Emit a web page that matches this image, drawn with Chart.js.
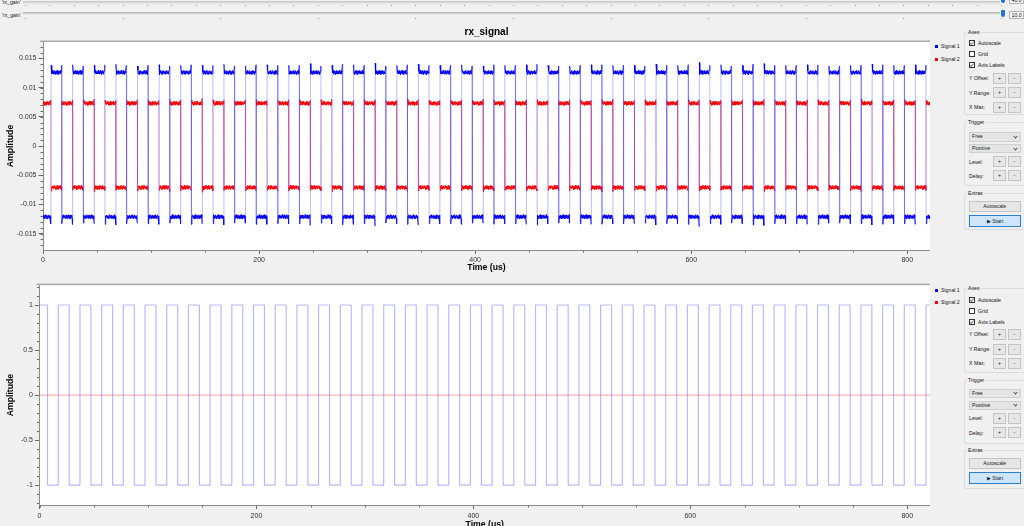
<!DOCTYPE html>
<html>
<head>
<meta charset="utf-8">
<script src="https://cdn.jsdelivr.net/npm/chart.js@4"></script>
<style>
html,body{margin:0;padding:0;width:1024px;height:526px;overflow:hidden;background:#f0f0f0;font-family:"Liberation Sans",Arial,sans-serif;color:#000;}
body{position:relative;}
canvas{position:absolute;}
.a{position:absolute;box-sizing:border-box;}
.t{position:absolute;font-size:5.2px;line-height:8px;height:8px;white-space:nowrap;color:#111;}
.gb{position:absolute;box-sizing:border-box;border:1px solid #dcdcdc;border-radius:2px;}
.gbt{position:absolute;font-size:5.2px;line-height:6px;background:#f0f0f0;padding:0 1px;color:#111;}
.cb{position:absolute;box-sizing:border-box;width:6px;height:6px;border:1px solid #333;background:#fff;}
.cb.on::after{content:"";position:absolute;left:1.3px;top:-0.3px;width:1.3px;height:2.8px;border:solid #777;border-width:0 0.8px 0.8px 0;transform:rotate(40deg);}
.btn{position:absolute;box-sizing:border-box;border:1px solid #c4c4c4;background:#e6e6e6;font-size:5.2px;text-align:center;color:#222;}
.dd{position:absolute;box-sizing:border-box;border:1px solid #cfcfcf;background:#e4e4e4;font-size:5.2px;color:#222;padding-left:2px;}
.dd::after{content:"";position:absolute;right:3px;top:1.8px;width:2px;height:2px;border:solid #555;border-width:0 0.7px 0.7px 0;transform:rotate(45deg);}
.start{border:1px solid #2a7fd4;background:#cde6fb;}
.tick{position:absolute;width:1px;height:1.5px;background:#9a9a9a;}
.sq{position:absolute;width:3px;height:3px;}
</style>
</head>
<body>
<canvas id="topPlot" width="930" height="255" style="left:0;top:20px;width:930px;height:255px"></canvas>
<canvas id="botPlot" width="930" height="253" style="left:0;top:279px;width:930px;height:253px"></canvas>
<script>
// ---------------- data ----------------
const xMax = 821;                                   // time axis end (us)
const xTickVals = [0, 200, 400, 600, 800];
const xTickLabels = ['0', '200', '400', '600', '800'];
const yTopTicks = [-0.015, -0.01, -0.005, 0, 0.005, 0.01, 0.015];
const yTopLabels = ['-0.015', '-0.01', '-0.005', '0', '0.005', '0.01', '0.015'];
const yBotTicks = [-1, -0.5, 0, 0.5, 1];
const yBotLabels = ['-1', '-0.5', '0', '0.5', '1'];
const seriesNames = ['Signal 1', 'Signal 2'];

// edge times (us): A = Signal 1 rising edges (rx_signal), B = Signal 1 falling edges
const edgeA = [7.4, 27.4, 47.4, 67.4, 87.4, 107.4, 127.4, 147.4, 167.4, 187.4, 207.4, 227.4, 247.4, 267.4,
  287.4, 307.4, 327.4, 347.4, 367.4, 387.4, 407.4, 427.4, 447.4, 467.4, 487.4, 507.4, 527.4, 547.4,
  567.4, 587.4, 607.4, 627.4, 647.4, 667.4, 687.4, 707.4, 727.4, 747.4, 767.4, 787.4, 807.4];
const edgeB = [17.3, 37.3, 57.3, 77.3, 97.3, 117.3, 137.3, 157.3, 177.3, 197.3, 217.3, 237.3, 257.3, 277.3,
  297.3, 317.3, 337.3, 357.3, 377.3, 397.3, 417.3, 437.3, 457.3, 477.3, 497.3, 517.3, 537.3, 557.3,
  577.3, 597.3, 617.3, 637.3, 657.3, 677.3, 697.3, 717.3, 737.3, 757.3, 777.3, 797.3, 817.3];

// rx_signal plateau levels
const sig1High = 0.0126, sig1Low = -0.0121;
const sig2High = 0.0073, sig2Low = -0.0071;
// overshoot size at each edge (rx_signal)
const sig1SpikeA = [0.0012, 0.0013, 0.0012, 0.0014, 0.0011, 0.0013, 0.0012, 0.0012, 0.0014, 0.0011, 0.0013, 0.0012,
  0.0015, 0.0012, 0.0013, 0.0016, 0.0012, 0.0014, 0.0012, 0.0013, 0.0011, 0.0012, 0.0013, 0.0012, 0.0011, 0.0013,
  0.0012, 0.0012, 0.0014, 0.0012, 0.0017, 0.0013, 0.0012, 0.0015, 0.0012, 0.0013, 0.0011, 0.0012, 0.0014, 0.0012, 0.0013];
const sig1SpikeB = [0.0012, 0.0011, 0.0013, 0.0012, 0.0012, 0.0011, 0.0013, 0.0012, 0.0011, 0.0013, 0.0012, 0.0012,
  0.0011, 0.0014, 0.0012, 0.0011, 0.0013, 0.0012, 0.0012, 0.0011, 0.0013, 0.0012, 0.0014, 0.0011, 0.0012, 0.0013,
  0.0012, 0.0011, 0.0012, 0.0013, 0.0012, 0.0011, 0.0014, 0.0012, 0.0012, 0.0013, 0.0011, 0.0012, 0.0013, 0.0012, 0.0012];
const sig2SpikeA = [0.0006, 0.0005, 0.0007, 0.0005, 0.0006, 0.0005, 0.0006, 0.0008, 0.0005, 0.0006, 0.0005, 0.0006,
  0.0005, 0.0007, 0.0005, 0.0006, 0.0005, 0.0006, 0.0005, 0.0006, 0.0007, 0.0005, 0.0006, 0.0005, 0.0006, 0.0005,
  0.0007, 0.0005, 0.0006, 0.0005, 0.0006, 0.0005, 0.0006, 0.0007, 0.0005, 0.0006, 0.0005, 0.0006, 0.0005, 0.0006, 0.0005];
const sig2SpikeB = [0.0005, 0.0006, 0.0005, 0.0006, 0.0005, 0.0007, 0.0005, 0.0006, 0.0005, 0.0006, 0.0005, 0.0006,
  0.0006, 0.0005, 0.0006, 0.0005, 0.0007, 0.0005, 0.0006, 0.0005, 0.0006, 0.0005, 0.0006, 0.0005, 0.0006, 0.0007,
  0.0005, 0.0006, 0.0005, 0.0006, 0.0005, 0.0006, 0.0005, 0.0006, 0.0005, 0.0006, 0.0005, 0.0007, 0.0005, 0.0006, 0.0005];
// plateau ripple (amplitude units)
const ripple1 = [0.0003, -0.00025, 0.0001, -0.00035, 0.0002, -0.0001, 0.00035, -0.0003, 0.00005, 0.00025, -0.00035,
  0.00015, -0.0001, 0.0003, -0.00025, 0.0001, -0.0003, 0.0002, 0, -0.00025, 0.00035, -0.00015, 0.0001, -0.0003, 0.00025];
const ripple2 = [-0.00025, 0.0003, -0.0001, 0.00025, -0.00035, 0.00015, 0.0001, -0.0003, 0.00035, -0.0002, 0.00005,
  0.0003, -0.0003, 0.0002, -0.0001, 0.00035, -0.00025, 0.0001, -0.0003, 0.0002, -0.00005, 0.0003, -0.00025];

// bottom plot levels
const botSig1High = 1, botSig1Low = -1;
const botSig2Level = 0;

// ---------------- build traces from the arrays ----------------
function mergedEdges() {
  const out = [];
  for (let k = 0; k < edgeA.length; k++) {
    out.push({t: edgeA[k], s: 'A', k});
    out.push({t: edgeB[k], s: 'B', k});
  }
  return out.sort((p, q) => p.t - q.t);
}
function noisyTrace(startHigh, hi, lo, spikeA, spikeB, ripple) {
  const edges = mergedEdges();
  const pts = [];
  let r = 0;
  const spikeOf = e => (e.s === 'A' ? spikeA[e.k] : spikeB[e.k]);
  for (let i = 0; i <= edges.length; i++) {
    const high = (i % 2 === 0) ? startHigh : !startHigh;
    const lvl = high ? hi : lo, dir = high ? 1 : -1;
    const ta = i === 0 ? 0 : edges[i - 1].t;
    const tb = i === edges.length ? xMax : edges[i].t;
    if (i === 0) pts.push({x: 0, y: lvl + ripple[r++ % ripple.length]});
    else pts.push({x: ta + 0.1, y: lvl + dir * spikeOf(edges[i - 1])});
    for (let t = ta + 0.5; t < tb - 0.35; t += 0.4) pts.push({x: t, y: lvl + ripple[r++ % ripple.length]});
    if (i === edges.length) pts.push({x: xMax, y: lvl + ripple[r++ % ripple.length]});
    else pts.push({x: tb - 0.1, y: lvl + dir * spikeOf(edges[i])});
  }
  return pts;
}
function cleanTrace(startHigh, hi, lo) {
  const edges = mergedEdges();
  let high = startHigh;
  const pts = [{x: 0, y: high ? hi : lo}];
  for (const e of edges) {
    pts.push({x: e.t, y: high ? hi : lo});
    high = !high;
    pts.push({x: e.t, y: high ? hi : lo});
  }
  pts.push({x: xMax, y: high ? hi : lo});
  return pts;
}
const topSig1 = noisyTrace(false, sig1High, sig1Low, sig1SpikeA, sig1SpikeB, ripple1);
const topSig2 = noisyTrace(true, sig2High, sig2Low, sig2SpikeA, sig2SpikeB, ripple2);
const botSig1 = cleanTrace(true, botSig1High, botSig1Low);
const botSig2 = [{x: 0, y: botSig2Level}, {x: xMax, y: botSig2Level}];

// ---------------- Chart.js ----------------
const FONT = '"Liberation Sans", Arial, sans-serif';
Chart.defaults.font.family = FONT;

const qwtFrame = {
  id: 'qwtFrame',
  beforeDraw(chart, args, o) {
    const {ctx, chartArea: a, scales: {x, y}} = chart;
    ctx.save();
    ctx.fillStyle = '#ffffff';
    ctx.fillRect(a.left, a.top, a.right - a.left, a.bottom - a.top);
    ctx.fillStyle = '#a9a9a9';
    ctx.fillRect(a.left - 3, a.top - 1.5, a.right - a.left + 3, 1.5);
    ctx.strokeStyle = '#6a6a6a';
    ctx.lineWidth = 1;
    ctx.beginPath();
    for (let i = Math.ceil(y.min / o.yMinor); i * o.yMinor <= y.max + 1e-12; i++) {
      const py = Math.round(y.getPixelForValue(i * o.yMinor)) + 0.5;
      ctx.moveTo(a.left - 2.5, py); ctx.lineTo(a.left, py);
    }
    for (let i = 0; i * o.xMinor <= x.max; i++) {
      const px = Math.round(x.getPixelForValue(i * o.xMinor)) + 0.5;
      ctx.moveTo(px, a.bottom); ctx.lineTo(px, a.bottom + 2.5);
    }
    ctx.stroke();
    ctx.restore();
  }
};

function makeChart(id, cfg) {
  return new Chart(document.getElementById(id), {
    type: 'scatter',
    data: {datasets: cfg.sets.map(s => ({
      label: s.label, data: s.data, showLine: true, borderColor: s.color, borderWidth: s.width,
      pointRadius: 0, pointHoverRadius: 0, fill: false, tension: 0,
      segment: {borderColor: c => (Math.abs(c.p1.parsed.y - c.p0.parsed.y) > cfg.edgeDy ? s.edgeColor : undefined)}
    }))},
    plugins: [qwtFrame],
    options: {
      responsive: false, animation: false, devicePixelRatio: 1, events: [],
      layout: {padding: {left: 0, right: 0, top: cfg.padTop, bottom: 0}},
      plugins: {
        legend: {display: false}, tooltip: {enabled: false},
        title: cfg.title ? {display: true, text: cfg.title, fullSize: false, color: '#000',
          font: {size: 10, weight: 'bold', family: FONT}, padding: {top: 6, bottom: 4}} : {display: false},
        qwtFrame: {yMinor: cfg.yMinor, xMinor: 50}
      },
      scales: {
        x: {
          type: 'linear', min: 0, max: xMax,
          afterBuildTicks: s => { s.ticks = xTickVals.map(v => ({value: v})); },
          afterFit: s => { s.height = cfg.xH; },
          grid: {display: true, drawOnChartArea: false, drawTicks: true, tickLength: 4, color: '#6a6a6a'},
          border: {display: true, color: '#8a8a8a', width: 1},
          ticks: {font: {size: 7}, color: '#333', padding: cfg.xPad, maxRotation: 0, autoSkip: false,
            callback: (v, i) => xTickLabels[i]},
          title: {display: true, text: 'Time (us)', color: '#000', font: {size: 8.7, weight: 'bold'},
            padding: {top: 0, bottom: 2}}
        },
        y: {
          type: 'linear', min: cfg.yMin, max: cfg.yMax,
          afterBuildTicks: s => { s.ticks = cfg.yTicks.map(v => ({value: v})); },
          afterFit: s => { s.width = cfg.yW; },
          grid: {display: true, drawOnChartArea: false, drawTicks: true, tickLength: 4.5, color: '#6a6a6a'},
          border: {display: true, color: '#8a8a8a', width: 1},
          ticks: {font: {size: 7}, color: '#333', padding: 2, autoSkip: false,
            callback: (v, i) => cfg.yLabels[i]},
          title: {display: true, text: 'Amplitude', color: '#000', font: {size: 8.7, weight: 'bold'},
            padding: {top: 5, bottom: 0}}
        }
      }
    }
  });
}

makeChart('topPlot', {
  title: 'rx_signal', padTop: 0, xH: 25, xPad: 2, yW: 43, yMinor: 0.001, edgeDy: 0.004,
  yMin: -0.0178, yMax: 0.0178, yTicks: yTopTicks, yLabels: yTopLabels,
  sets: [{label: seriesNames[0], data: topSig1, color: '#0000ff', edgeColor: 'rgba(60,60,255,0.35)', width: 1},
         {label: seriesNames[1], data: topSig2, color: '#ff0000', edgeColor: 'rgba(230,40,90,0.4)', width: 1}]
});
makeChart('botPlot', {
  title: null, padTop: 6, xH: 27, xPad: 3, yW: 39.5, yMinor: 0.1, edgeDy: 0.5,
  yMin: -1.22, yMax: 1.22, yTicks: yBotTicks, yLabels: yBotLabels,
  sets: [{label: seriesNames[0], data: botSig1, color: 'rgba(100,100,255,0.45)', edgeColor: 'rgba(100,100,255,0.45)', width: 1.2},
         {label: seriesNames[1], data: botSig2, color: 'rgba(255,70,70,0.55)', edgeColor: 'rgba(255,70,70,0.55)', width: 1}]
});

// ---------------- GUI chrome (Qt widgets) ----------------
function el(cls, x, y, w, h, text) {
  const d = document.createElement('div');
  d.className = cls;
  d.style.left = x + 'px'; d.style.top = y + 'px';
  if (w != null) d.style.width = w + 'px';
  if (h != null) { d.style.height = h + 'px'; d.style.lineHeight = (h - 2) + 'px'; }
  if (text != null) d.textContent = text;
  document.body.appendChild(d);
  return d;
}
function txt(x, cy, s) { const d = el('t', x, cy - 4, null, null, s); d.style.height = '8px'; d.style.lineHeight = '8px'; return d; }

// sliders
txt(2, 1.5, "'tx_gain'");
txt(2, 15, "'rx_gain'");
el('a', 23, 1, 977, 2.5).style.cssText += 'border-top:1px solid #c9c9c9;border-bottom:1px solid #e4e4e4;background:#dadada;';
el('a', 23, 12, 977, 2.5).style.cssText += 'border-top:1px solid #b8b8b8;border-bottom:1px solid #e4e4e4;background:#d4d4d4;';
for (let i = 0; i <= 40; i++) el('tick', 25 + i * 24.4, 4.5);
for (let i = 0; i <= 10; i++) el('tick', 25 + i * 97.6, 17.5);
el('a', 1000.5, -2, 4.5, 5).style.cssText += 'background:#1f74d0;border-radius:0 0 2px 2px;';
el('a', 1000.5, 9.5, 4.5, 7).style.cssText += 'background:#1f74d0;border-radius:1px 1px 2.5px 2.5px;';
const vb1 = el('a', 1008.5, -4, 15, 8, '40.0'); vb1.style.cssText += 'background:#fff;border:1px solid #b0b0b0;font-size:5.2px;padding-left:2px;line-height:6px;';
const vb2 = el('a', 1008.5, 11, 15, 8, '10.0'); vb2.style.cssText += 'background:#fff;border:1px solid #b0b0b0;font-size:5.2px;padding-left:2px;line-height:6px;';

// legends
function legend(y1, y2) {
  el('sq', 934.5, y1 - 1.5).style.background = '#0000ff';
  txt(941, y1, seriesNames[0]);
  el('sq', 934.5, y2 - 1.5).style.background = '#ff0000';
  txt(941, y2, seriesNames[1]);
}
legend(46, 59);
legend(290, 302);

// control panels
function panel(p) {
  el('gb', 964, p.axes[0], 70, p.axes[1] - p.axes[0]);
  el('gbt', 967, p.axes[0] - 3, null, null, 'Axes');
  const cbl = ['Autoscale', 'Grid', 'Axis Labels'], cbOn = [true, false, true];
  p.cbs.forEach((cy, i) => { el('cb' + (cbOn[i] ? ' on' : ''), 969, cy - 3); txt(978, cy, cbl[i]); });
  const r1 = ['Y Offset:', 'Y Range:', 'X Max:'];
  p.rows1.forEach((cy, i) => { txt(969, cy, r1[i]); el('btn', 993, cy - 5.5, 13, 11, '+'); el('btn', 1008, cy - 5.5, 12.5, 11, '-'); });
  el('gb', 964, p.trig[0], 70, p.trig[1] - p.trig[0]);
  el('gbt', 967, p.trig[0] - 3, null, null, 'Trigger');
  ['Free', 'Positive'].forEach((s, i) => el('dd', 969, p.drops[i] - 4.5, 52, 9.5, s));
  ['Level:', 'Delay:'].forEach((s, i) => { const cy = p.rows2[i]; txt(969, cy, s); el('btn', 993, cy - 5.5, 13, 11, '+'); el('btn', 1008, cy - 5.5, 12.5, 11, '-'); });
  el('gb', 964, p.extras[0], 70, p.extras[1] - p.extras[0]);
  el('gbt', 967, p.extras[0] - 3, null, null, 'Extras');
  el('btn', 969, p.auto - 5.5, 51.5, 11, 'Autoscale');
  el('btn start', 969, p.start - 6, 52, 12, '\u25B6 Start');
}
panel({axes: [31.7, 115.5], cbs: [43.3, 54, 65.3], rows1: [78.3, 92.7, 107], trig: [122, 185.5], drops: [136.7, 148.3],
       rows2: [161.7, 175.7], extras: [192.7, 230.5], auto: 206.7, start: 221});
panel({axes: [288, 372.7], cbs: [300, 311, 322.3], rows1: [334, 349, 363], trig: [380, 443.5], drops: [393, 405],
       rows2: [418, 432.7], extras: [450, 488.5], auto: 463, start: 478});
</script>
</body>
</html>
